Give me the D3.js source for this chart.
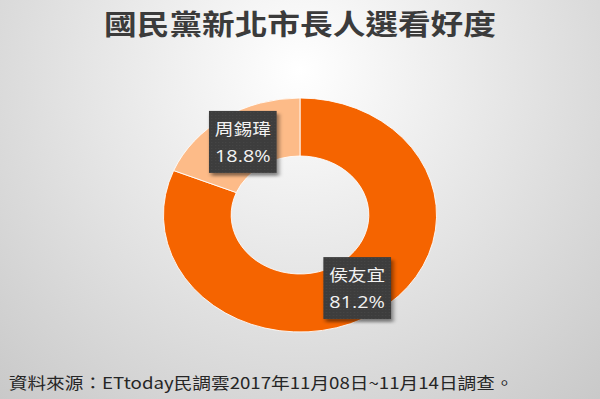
<!DOCTYPE html>
<html>
<head>
<meta charset="utf-8">
<script src="https://cdn.jsdelivr.net/npm/d3@7"></script>
<style>
  html, body { margin: 0; padding: 0; background: #fff; }
  svg { display: block; }
</style>
</head>
<body>
<svg id="chart" width="600" height="399"></svg>
<script>
// Survey result: KMT New Taipei mayoral candidates
const candidates = ["侯友宜", "周錫瑋"];
const shares = [81.2, 18.8];
const sliceColors = ["#F56400", "#FDBB88"];
const titleText = "國民黨新北市長人選看好度";
const sourceText = "資料來源：ETtoday民調雲2017年11月08日~11月14日調查。";

const W = 600, H = 399;
const sx = 1.167;            // artwork is laid out wide
const LW = W / sx;           // local drawing width

const svg = d3.select("#chart");
const defs = svg.append("defs");

const bg = defs.append("radialGradient")
  .attr("id", "bg").attr("gradientUnits", "userSpaceOnUse")
  .attr("cx", 300).attr("cy", 70).attr("r", 470);
bg.append("stop").attr("offset", 0).attr("stop-color", "#ffffff");
bg.append("stop").attr("offset", 0.12).attr("stop-color", "#f8f8f8");
bg.append("stop").attr("offset", 1).attr("stop-color", "#c6c6c6");

const shadow = defs.append("filter").attr("id", "shadow")
  .attr("x", "-20%").attr("y", "-20%").attr("width", "150%").attr("height", "150%");
shadow.append("feDropShadow").attr("dx", 2).attr("dy", 3)
  .attr("stdDeviation", 1.8).attr("flood-color", "#000").attr("flood-opacity", 0.45);

const pat = defs.append("pattern").attr("id", "tex")
  .attr("width", 3).attr("height", 3).attr("patternUnits", "userSpaceOnUse");
pat.append("rect").attr("width", 3).attr("height", 3).attr("fill", "#3d3d3d");
pat.append("rect").attr("width", 1).attr("height", 1).attr("fill", "#474747");

svg.append("rect").attr("width", W).attr("height", H).attr("fill", "url(#bg)");

const g = svg.append("g").attr("transform", `scale(${sx},1)`);

// Title
g.append("text")
  .attr("x", LW / 2).attr("y", 35)
  .attr("text-anchor", "middle")
  .attr("font-family", "'Noto Sans CJK TC', 'Noto Sans', sans-serif")
  .attr("font-weight", "bold")
  .attr("font-size", 28)
  .attr("fill", "#3b3b3b")
  .text(titleText);

// Donut
const cx = LW / 2, cy = 215;
const rOuter = 117, rInner = 59;
const pie = d3.pie().sort(null).value(d => d.v);
const data = candidates.map((n, i) => ({ name: n, v: shares[i], color: sliceColors[i] }));
const arcs = pie(data);
const arc = d3.arc().innerRadius(rInner).outerRadius(rOuter);

const donut = g.append("g").attr("transform", `translate(${cx},${cy})`);
donut.selectAll("path").data(arcs).join("path")
  .attr("d", arc)
  .attr("fill", d => d.data.color)
  .attr("stroke", "#ffffff")
  .attr("stroke-width", 0.8);

// Data labels on slice centroids
const fmt = d3.format(".1f");
const boxW = 58, boxH = 62;
const labels = donut.selectAll("g.lbl").data(arcs).join("g")
  .attr("class", "lbl")
  .attr("transform", d => {
    const [x, y] = arc.centroid(d);
    return `translate(${x},${y})`;
  });
labels.append("rect")
  .attr("x", -boxW / 2).attr("y", -boxH / 2)
  .attr("width", boxW).attr("height", boxH)
  .attr("fill", "url(#tex)")
  .attr("filter", "url(#shadow)");
labels.append("text")
  .attr("y", -boxH / 2 + 24)
  .attr("text-anchor", "middle")
  .attr("font-family", "'Noto Sans CJK TC', sans-serif")
  .attr("font-size", 16)
  .attr("fill", "#f2f2f2")
  .text(d => d.data.name);
labels.append("text")
  .attr("y", -boxH / 2 + 51)
  .attr("text-anchor", "middle")
  .attr("font-family", "'Open Sans', 'Noto Sans', sans-serif")
  .attr("font-size", 17)
  .attr("fill", "#f2f2f2")
  .text(d => fmt(d.data.v) + "%");

// Source note
g.append("text")
  .attr("x", 7.5).attr("y", 389)
  .attr("font-family", "'Noto Sans CJK TC', sans-serif")
  .attr("font-size", 16)
  .attr("fill", "#262626")
  .text(sourceText);
</script>
</body>
</html>
